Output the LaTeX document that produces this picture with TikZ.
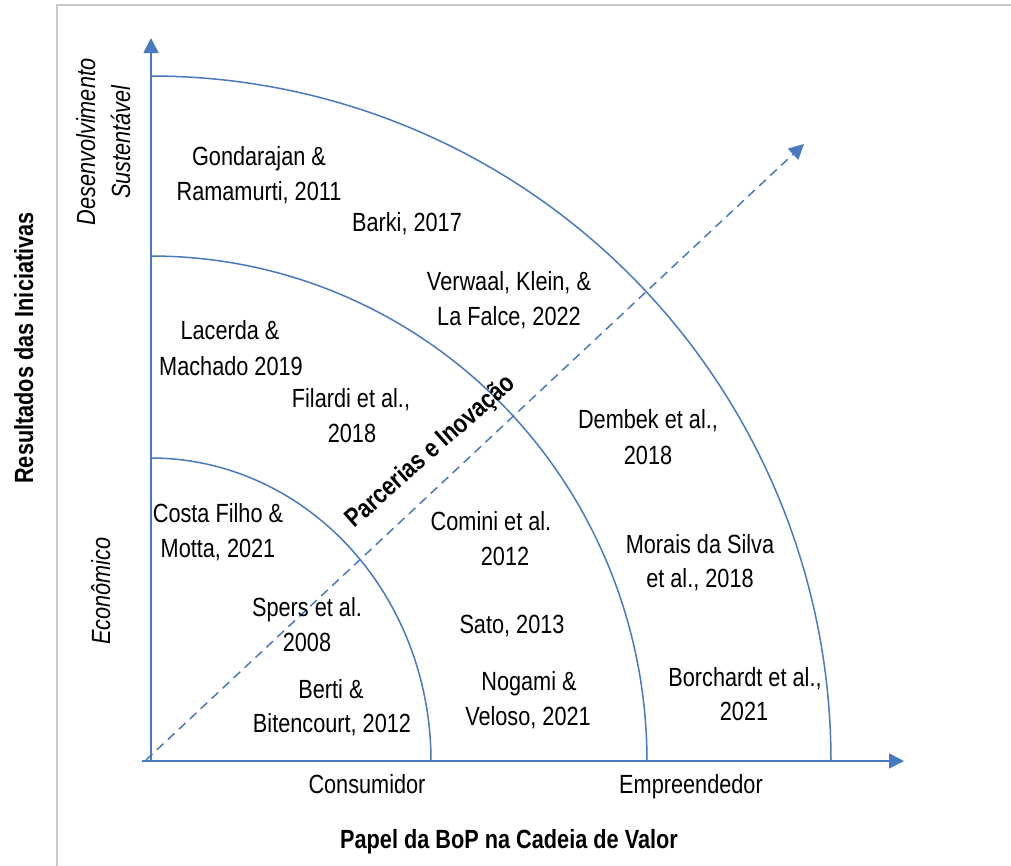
\documentclass[tikz,border=0pt]{standalone}
\usepackage{fontspec}
\setmainfont{Liberation Sans}[FakeStretch=0.825]
\usetikzlibrary{arrows.meta}
\definecolor{axblue}{RGB}{72,122,192}
\definecolor{framegray}{RGB}{200,200,200}
\tikzset{
  lbl/.style={font=\fontsize{26.3}{35}\selectfont, anchor=base, inner sep=0pt, align=center},
  ital/.style={font=\fontsize{26.3}{35}\selectfont\itshape, anchor=base, inner sep=0pt, rotate=90},
  boldlbl/.style={font=\fontsize{26.3}{35}\selectfont\bfseries, anchor=base, inner sep=0pt},
  axis/.style={draw=axblue, line width=1.6pt, -{Triangle[length=15pt,width=15pt]}},
  ring/.style={draw=axblue, line width=1.5pt},
  diag/.style={draw=axblue, line width=1.5pt, dash pattern=on 9pt off 6pt, -{Triangle[length=15pt,width=15pt]}}
}
\begin{document}
\begin{tikzpicture}[x=1pt,y=-1pt]
\useasboundingbox (0,0) rectangle (1011,865);
% frame
\draw[framegray, line width=1.2pt] (57,866) -- (57,5) -- (1012,5);
% coordinates
\coordinate (O) at (151,761);
\coordinate (Oh) at (142,761);
\coordinate (ytip) at (151,38);
\coordinate (xtip) at (904,761);
\coordinate (d0) at (146,760);
\coordinate (dtip) at (804,144);
% rings (quarter ellipses centred on origin)
\draw[ring] plot[domain=0:90, samples=90, smooth] ({151+280*cos(\x)},{761-303*sin(\x)});
\draw[ring] plot[domain=0:90, samples=90, smooth] ({151+496*cos(\x)},{761-505*sin(\x)});
\draw[ring] plot[domain=0:90, samples=90, smooth] ({151+680*cos(\x)},{761-685*sin(\x)});
% axes
\draw[axis] (O) -- (ytip);
\draw[axis] (Oh) -- (xtip);
\draw[diag] (d0) -- (dtip);
% axis titles
\node[boldlbl, rotate=90] (ytitle) at (33,348) {Resultados das Iniciativas};
\node[boldlbl] (xtitle) at (509,848) {Papel da BoP na Cadeia de Valor};
\node[ital] (dev) at (95,142) {Desenvolvimento};
\node[ital] (sus) at (130,142) {Sustentável};
\node[ital] (eco) at (110,591) {Econômico};
\node[lbl] (cons) at (367,793) {Consumidor};
\node[lbl] (emp) at (691,793) {Empreendedor};
\node[font=\fontsize{26.3}{35}\selectfont\bfseries, rotate=41.5, inner sep=0pt] (parc) at (431,452) {Parcerias e Inovação};
% outer band
\node[lbl] (g1) at (259,165) {Gondarajan \&};
\node[lbl] (g2) at (259,200.5) {Ramamurti, 2011};
\node[lbl] (b1) at (407,231.5) {Barki, 2017};
\node[lbl] (v1) at (509,290) {Verwaal, Klein, \&};
\node[lbl] (v2) at (509,325) {La Falce, 2022};
% middle band
\node[lbl] (l1) at (230,339) {Lacerda \&};
\node[lbl] (l2) at (231,375) {Machado 2019};
\node[lbl] (f1) at (351,407) {Filardi et al.,};
\node[lbl] (f2) at (352,442) {2018};
\node[lbl] (de1) at (648,428) {Dembek et al.,};
\node[lbl] (de2) at (648,464) {2018};
% inner band
\node[lbl] (c1) at (218,522) {Costa Filho \&};
\node[lbl] (c2) at (218,557) {Motta, 2021};
\node[lbl] (s1) at (307,616) {Spers et al.};
\node[lbl] (s2) at (307,651) {2008};
\node[lbl] (be1) at (331,698) {Berti \&};
\node[lbl] (be2) at (332,732) {Bitencourt, 2012};
% consumer-entrepreneur band
\node[lbl] (co1) at (491,530) {Comini et al.};
\node[lbl] (co2) at (505,565) {2012};
\node[lbl] (sa) at (512,633) {Sato, 2013};
\node[lbl] (n1) at (529,690) {Nogami \&};
\node[lbl] (n2) at (528,725) {Veloso, 2021};
% outer right band
\node[lbl] (m1) at (700,553) {Morais da Silva};
\node[lbl] (m2) at (700,587) {et al., 2018};
\node[lbl] (bo1) at (745,686) {Borchardt et al.,};
\node[lbl] (bo2) at (744,720) {2021};
\end{tikzpicture}
\end{document}
